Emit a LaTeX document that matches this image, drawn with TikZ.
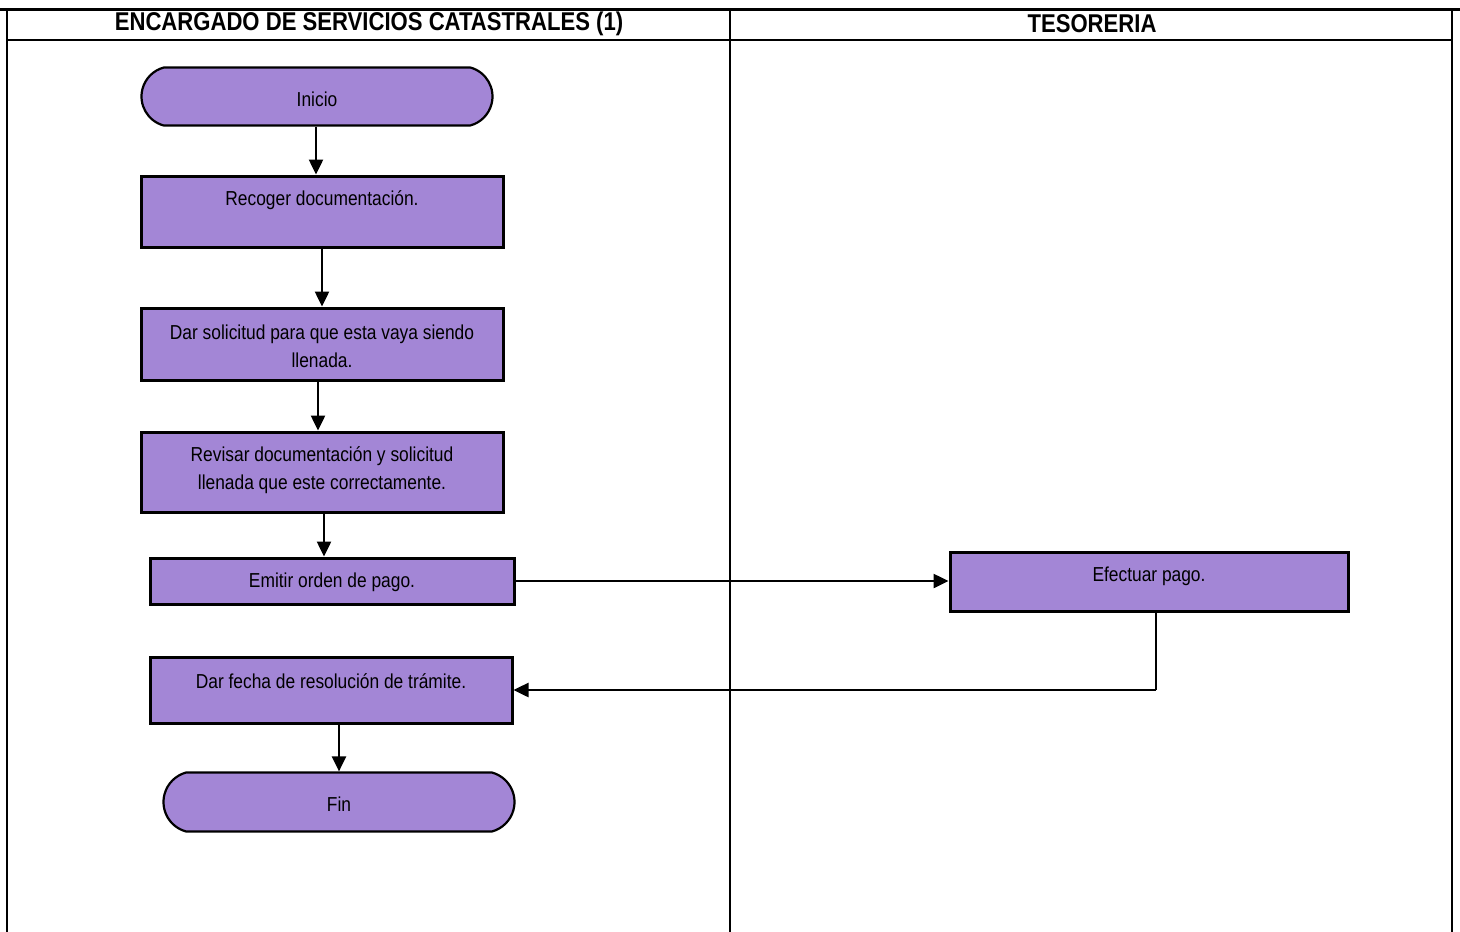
\documentclass[tikz,border=0pt]{standalone}
\usepackage{fontspec}
\setmainfont{Liberation Sans}[FakeStretch=0.86]
\usetikzlibrary{arrows.meta,shapes.misc}
\definecolor{purp}{RGB}{163,134,214}
\tikzset{
  boxnode/.style={draw=black, line width=3pt, fill=purp, inner sep=0pt},
  termnode/.style={draw=black, line width=2.2pt, fill=purp, rounded rectangle, rounded rectangle arc length=150, inner sep=0pt},
  txt/.style={font=\fontsize{20.2}{28}\selectfont, align=center, inner sep=0pt},
  hdr/.style={font=\bfseries\fontsize{25.7}{28}\selectfont, inner sep=0pt},
  lane/.style={line width=2.2pt},
  flow/.style={line width=2.5pt, -{Triangle[length=15pt,width=14pt]}},
}
\begin{document}
\begin{tikzpicture}[x=1pt,y=-1pt]
\useasboundingbox (0,0) rectangle (1460,932);
\fill[white] (0,0) rectangle (1460,932);
% lanes
\draw[line width=3pt] (0,9) -- (1460,9);
\draw[lane] (7,9) -- (7,932);
\draw[lane] (730,9) -- (730,932);
\draw[lane] (1452,9) -- (1452,932);
\draw[lane] (7,40) -- (1452,40);
\node[hdr] (h1) at (369,24) {ENCARGADO DE SERVICIOS CATASTRALES (1)};
\node[hdr] (h2) at (1092,24) {TESORERIA};
% nodes
\node[termnode, minimum width=351, minimum height=58] (ini) at (317,96.5) {};
\node[txt] (tini) at (317,99) {Inicio};
\node[boxnode, minimum width=362, minimum height=71] (rec) at (322,211.5) {};
\node[txt] (trec) at (322,200) {Recoger documentación.};
\node[boxnode, minimum width=362, minimum height=72] (sol) at (322,344) {};
\node[txt] (tsol) at (322,346) {Dar solicitud para que esta vaya siendo\\llenada.};
\node[boxnode, minimum width=362, minimum height=80] (rev) at (322,472) {};
\node[txt] (trev) at (322,470) {Revisar documentación y solicitud\\llenada que este correctamente.};
\node[boxnode, minimum width=364, minimum height=46] (emi) at (332,581) {};
\node[txt] (temi) at (332,582) {Emitir orden de pago.};
\node[boxnode, minimum width=398, minimum height=59] (efe) at (1149,581.5) {};
\node[txt] (tefe) at (1149,576) {Efectuar pago.};
\node[boxnode, minimum width=362, minimum height=66] (fec) at (331,690) {};
\node[txt] (tfec) at (331,681) {Dar fecha de resolución de trámite.};
\node[termnode, minimum width=351, minimum height=59] (fin) at (339,802) {};
\node[txt] (tfin) at (339,804) {Fin};
% connectors
\draw[flow] ([xshift=-1]ini.south) -- ([xshift=-1]ini.south |- rec.north);
\draw[flow] (rec.south) -- (sol.north);
\draw[flow] ([xshift=-4]sol.south) -- ([xshift=-4]sol.south |- rev.north);
\draw[flow] ([xshift=2]rev.south) -- ([xshift=2]rev.south |- emi.north);
\draw[flow] (emi.east) -- (emi.east -| efe.west);
\draw[line width=1.2pt] ([xshift=7]efe.south) -- ([xshift=7]efe.south |- fec.east);
\draw[flow] ([xshift=7]efe.south |- fec.east) -- (fec.east);
\draw[flow] (fin.north |- fec.south) -- (fin.north);
\end{tikzpicture}
\end{document}
